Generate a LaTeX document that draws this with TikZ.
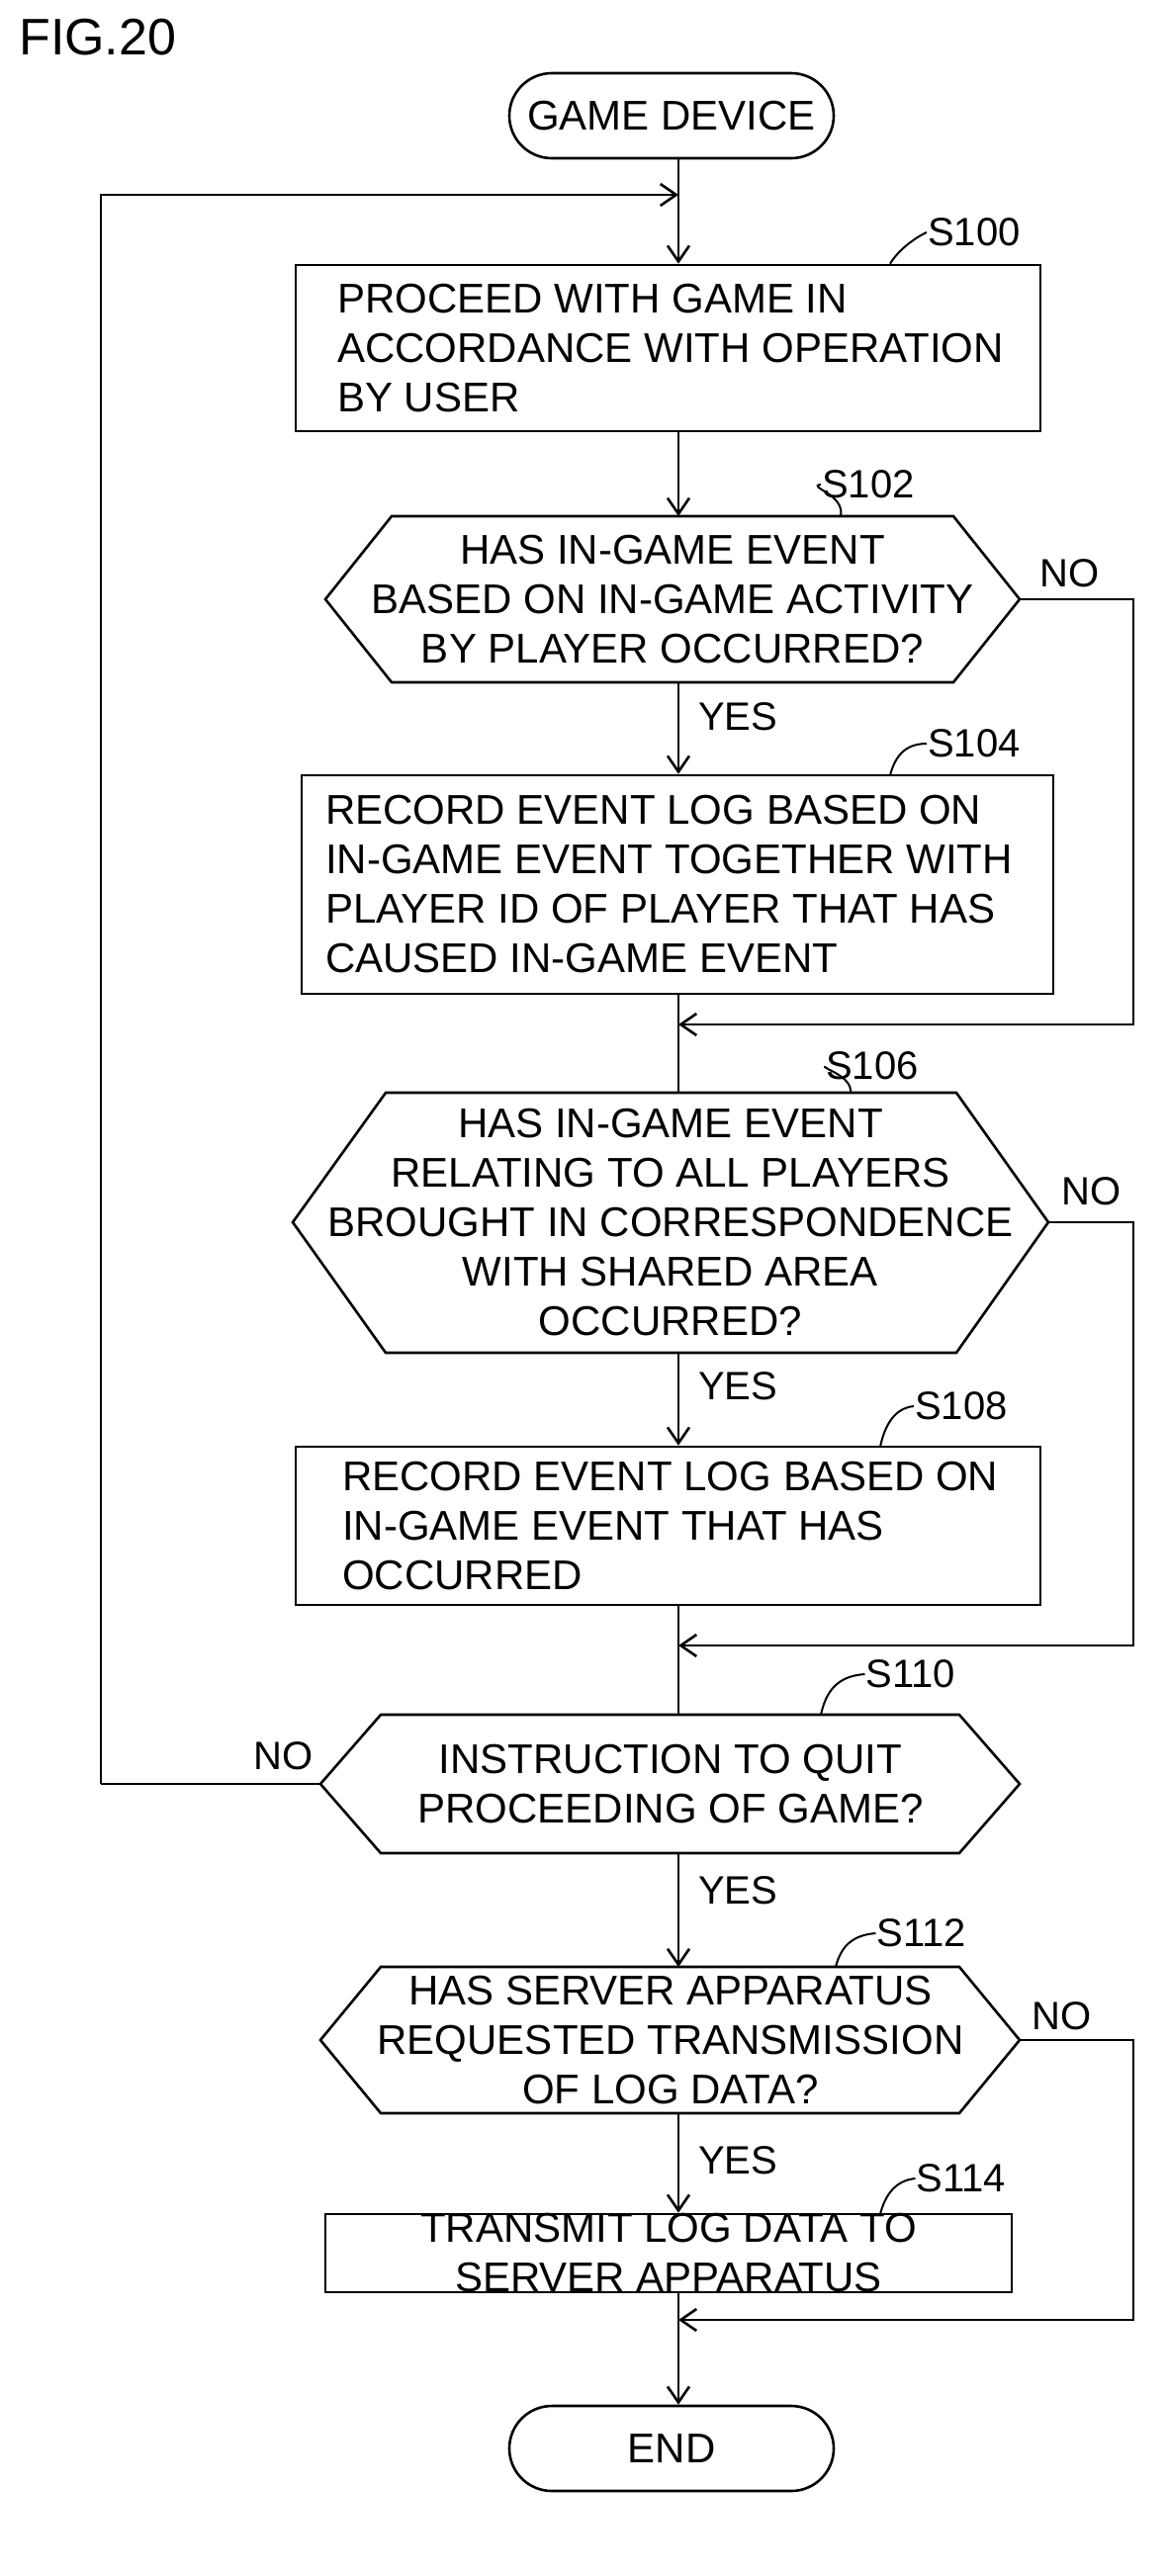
\documentclass[tikz,border=0pt]{standalone}
\usepackage{fontspec}
\setmainfont{Liberation Sans}
\usetikzlibrary{arrows.meta}
\begin{document}
\begin{tikzpicture}[x=1pt,y=-1pt,line width=2.6pt,
  txt/.style={font=\fontsize{42}{50}\selectfont,align=center,inner sep=0},
  lbl/.style={font=\fontsize{40}{44}\selectfont,inner sep=0},
  box/.style={draw,rectangle,inner sep=0},
  arr/.style={-{Straight Barb[length=16pt,width=22pt,line width=2.6pt]}},
  lead/.style={line width=2pt}]
\useasboundingbox (0,0) rectangle (1179,2605);
\node[lbl,anchor=north west,font=\fontsize{52}{56}\selectfont] (fig) at (18,18) {FIG.20};
% start
\node[draw,rounded corners=43pt,minimum width=328pt,minimum height=86pt,txt] (start) at (679,117) {GAME DEVICE};
% S100
\node[box,minimum width=753pt,minimum height=168pt] (b100) at (675.5,352) {};
\node[txt,align=left,anchor=west] (t100) at (340,352) {PROCEED WITH GAME IN\\ACCORDANCE WITH OPERATION\\BY USER};
\node[lbl] (l100) at (985,235) {S100};
\draw[lead] (b100.north -| 900,0) .. controls (910,250) and (930,238) .. (l100.west);
% S102
\draw (329,606) -- (396,522) -- (964,522) -- (1031,606) -- (964,690) -- (396,690) -- cycle;
\coordinate (h102t) at (686,522); \coordinate (h102b) at (686,690);
\coordinate (h102r) at (1031,606);
\node[txt] (t102) at (680,606) {HAS IN-GAME EVENT\\BASED ON IN-GAME ACTIVITY\\BY PLAYER OCCURRED?};
\node[lbl] (l102) at (878,490) {S102};
\draw[lead] (850,522) .. controls (855,500) and (815,492) .. (l102.west);
\node[lbl,anchor=west] (no102) at (1050,580) {NO};
\node[lbl,anchor=west] (yes102) at (705,725) {YES};
% S104
\node[box,minimum width=760pt,minimum height=221pt] (b104) at (685,894.5) {};
\node[txt,align=left,anchor=west] (t104) at (328,894) {RECORD EVENT LOG BASED ON\\IN-GAME EVENT TOGETHER WITH\\PLAYER ID OF PLAYER THAT HAS\\CAUSED IN-GAME EVENT};
\node[lbl] (l104) at (985,752) {S104};
\draw[lead] (900,784) .. controls (905,765) and (915,752) .. (l104.west);
% S106
\draw (296,1236) -- (390,1105) -- (967,1105) -- (1060,1236) -- (967,1368) -- (390,1368) -- cycle;
\coordinate (h106t) at (686,1105); \coordinate (h106b) at (686,1368);
\coordinate (h106r) at (1060,1236);
\node[txt] (t106) at (678,1236) {HAS IN-GAME EVENT\\RELATING TO ALL PLAYERS\\BROUGHT IN CORRESPONDENCE\\WITH SHARED AREA\\OCCURRED?};
\node[lbl] (l106) at (882,1078) {S106};
\draw[lead] (860,1105) .. controls (862,1088) and (830,1080) .. (l106.west);
\node[lbl,anchor=west] (no106) at (1072,1205) {NO};
\node[lbl,anchor=west] (yes106) at (705,1402) {YES};
% S108
\node[box,minimum width=753pt,minimum height=160pt] (b108) at (675.5,1543) {};
\node[txt,align=left,anchor=west] (t108) at (345,1543) {RECORD EVENT LOG BASED ON\\IN-GAME EVENT THAT HAS\\OCCURRED};
\node[lbl] (l108) at (972,1422) {S108};
\draw[lead] (890,1463) .. controls (895,1440) and (905,1424) .. (l108.west);
% S110
\draw (324,1804) -- (385,1734) -- (970,1734) -- (1031,1804) -- (970,1874) -- (385,1874) -- cycle;
\coordinate (h110t) at (686,1734); \coordinate (h110b) at (686,1874);
\coordinate (h110l) at (324,1804);
\node[txt] (t110) at (678,1804) {INSTRUCTION TO QUIT\\PROCEEDING OF GAME?};
\node[lbl] (l110) at (921,1693) {S110};
\draw[lead] (830,1734) .. controls (835,1712) and (845,1695) .. (l110.west);
\node[lbl,anchor=east] (no110) at (318,1776) {NO};
\node[lbl,anchor=west] (yes110) at (705,1912) {YES};
% S112
\draw (324,2063) -- (385,1989) -- (970,1989) -- (1031,2063) -- (970,2137) -- (385,2137) -- cycle;
\coordinate (h112t) at (686,1989); \coordinate (h112b) at (686,2137);
\coordinate (h112r) at (1031,2063);
\node[txt] (t112) at (678,2063) {HAS SERVER APPARATUS\\REQUESTED TRANSMISSION\\OF LOG DATA?};
\node[lbl] (l112) at (932,1955) {S112};
\draw[lead] (845,1989) .. controls (850,1970) and (860,1957) .. (l112.west);
\node[lbl,anchor=west] (no112) at (1042,2039) {NO};
\node[lbl,anchor=west] (yes112) at (705,2185) {YES};
% S114
\node[box,minimum width=694pt,minimum height=79pt] (b114) at (676,2278.5) {};
\node[txt] (t114) at (676,2278) {TRANSMIT LOG DATA TO\\SERVER APPARATUS};
\node[lbl] (l114) at (972,2203) {S114};
\draw[lead] (890,2239) .. controls (895,2220) and (905,2205) .. (l114.west);
% end
\node[draw,rounded corners=43pt,minimum width=328pt,minimum height=86pt,txt] (end) at (679,2476) {END};
% merge coordinates
\coordinate (m0) at (686,197);
\coordinate (m1) at (686,1036);
\coordinate (m2) at (686,1664);
\coordinate (m3) at (686,2346);
% connectors
\draw[arr] (start.south -| m0) -- (b100.north -| m0);
\draw (102,1804) -- (h110l);
\draw[arr] (102,1804) -- (102,197) -- (m0);
\draw[arr] (b100.south -| m0) -- (h102t);
\draw[arr] (h102b) -- (b104.north -| m0);
\draw (b104.south -| m0) -- (h106t);
\draw[arr] (h102r) -- (1146,606) -- (1146,1036) -- (m1);
\draw[arr] (h106b) -- (b108.north -| m0);
\draw (b108.south -| m0) -- (h110t);
\draw[arr] (h106r) -- (1146,1236) -- (1146,1664) -- (m2);
\draw[arr] (h110b) -- (h112t);
\draw[arr] (h112b) -- (b114.north -| m0);
\draw[arr] (h112r) -- (1146,2063) -- (1146,2346) -- (m3);
\draw[arr] (b114.south -| m0) -- (end.north -| m0);
\end{tikzpicture}
\end{document}
